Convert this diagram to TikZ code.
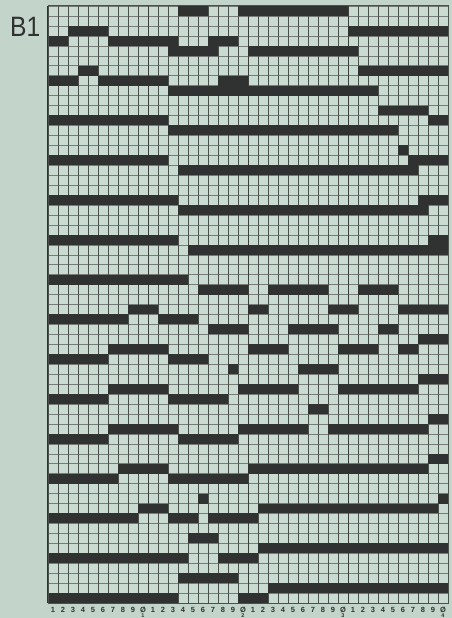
\documentclass[tikz,border=0pt]{standalone}
\usepackage{fontspec}
\setmainfont{Liberation Sans}
\definecolor{bgc}{HTML}{C3D5CB}
\definecolor{cellc}{HTML}{CADCD2}
\definecolor{darkc}{HTML}{2F3230}
\definecolor{linec}{HTML}{4A504C}
\tikzset{
  darkcell/.style={fill=darkc},
  vline/.style={draw=linec,line width=0.6pt},
  hline/.style={draw=linec!75!white,line width=0.45pt},
  tenline/.style={draw=linec!80!black,line width=1pt},
  digit/.style={font=\fontsize{7.5}{7.5}\selectfont\bfseries,text=darkc,inner sep=0pt},
}
\begin{document}
\begin{tikzpicture}[x=1pt,y=-1pt]
\useasboundingbox (0,0) rectangle (452,618);
\fill[bgc] (0,0) rectangle (452,618);
\def\rh{9.95}
% light grid
\fill[cellc] (48,6) rectangle (448,603);
% grid lines
\foreach \r in {0,...,60}{
  \draw[hline] (48,{6+\r*\rh}) -- (448,{6+\r*\rh});
}
\foreach \c in {0,...,40}{
  \draw[vline] ({48+\c*10},6) -- ({48+\c*10},603);
}
\foreach \c in {0,10,20,30,40}{
  \draw[tenline] ({48+\c*10},6) -- ({48+\c*10},603);
}
% dark runs: row/start/end
\foreach \r/\a/\b in {
1/14/16, 1/20/30,
3/3/6, 3/31/40,
4/1/2, 4/7/13, 4/17/19,
5/13/17, 5/21/31,
7/4/5, 7/32/40,
8/1/3, 8/6/12, 8/18/20,
9/13/33,
11/34/38,
12/1/12, 12/39/40,
13/13/35,
15/36/36,
16/1/12, 16/37/40,
17/14/37,
20/1/13, 20/38/40,
21/14/38,
24/1/13, 24/39/40,
25/15/40,
28/1/14,
29/16/20, 29/23/28, 29/32/35,
31/9/11, 31/21/22, 31/29/31, 31/36/40,
32/1/8, 32/12/15,
33/17/20, 33/25/29, 33/34/35,
34/38/40,
35/7/12, 35/21/24, 35/30/33, 35/36/37,
36/1/6, 36/13/16,
37/19/19, 37/26/29,
38/38/40,
39/7/12, 39/20/25, 39/30/37,
40/1/6, 40/13/18,
41/27/28,
42/39/40,
43/7/13, 43/20/26, 43/29/38,
44/1/6, 44/14/19,
46/39/40,
47/8/12, 47/21/38,
48/1/7, 48/13/20,
50/16/16, 50/40/40,
51/10/12, 51/22/39,
52/1/9, 52/13/15, 52/17/21,
54/15/17,
55/22/40,
56/1/14, 56/18/21,
58/14/19,
59/23/40,
60/1/13, 60/20/22}{
  \fill[darkcell] ({48+(\a-1)*10},{6+(\r-1)*\rh}) rectangle ({48+\b*10},{6+\r*\rh});
}
% outer border
\draw[draw=linec,line width=1pt] (48,6) rectangle (448,603);
\draw[draw=darkc,line width=1.4pt] (47.5,6) -- (47.5,603);
% label
\node[anchor=base west,inner sep=0pt,text=darkc,font=\fontsize{28}{28}\selectfont,xscale=0.88] (lbl) at (10,37) {B1};
% column numbers
\foreach \i in {1,...,40}{
  \pgfmathtruncatemacro{\d}{mod(\i,10)}
  \ifnum\d=0
    \node[digit] (n\i) at ({48+(\i-0.5)*10},609.5) {Ø};
  \else
    \node[digit] (n\i) at ({48+(\i-0.5)*10},609.5) {\d};
  \fi
}
\foreach \k in {1,2,3,4}{
  \node[digit,font=\fontsize{5.5}{5.5}\selectfont\bfseries] (m\k) at ({48+(\k*10-0.5)*10},615.5) {\k};
}
\end{tikzpicture}
\end{document}
